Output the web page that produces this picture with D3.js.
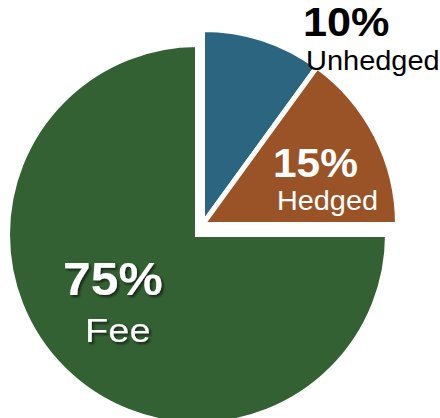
<!DOCTYPE html>
<html>
<head>
<meta charset="utf-8">
<script src="https://cdn.jsdelivr.net/npm/d3@7"></script>
<style>
  body { margin: 0; background: #fff; }
  text { font-family: "Liberation Sans", Arial, sans-serif; }
</style>
</head>
<body>
<div id="pie-chart"></div>
<script>
var categories = ["Unhedged", "Hedged", "Fee"];
var values = [10, 15, 75];
var pctLabels = ["10%", "15%", "75%"];
var colors = ["#2b6580", "#9a5326", "#336133"];

var width = 440, height = 418;

var svg = d3.select("#pie-chart").append("svg")
    .attr("width", width)
    .attr("height", height);

var defs = svg.append("defs");
defs.append("filter")
    .attr("id", "shadow")
    .attr("x", "-20%").attr("y", "-20%")
    .attr("width", "140%").attr("height", "140%")
  .append("feDropShadow")
    .attr("dx", 2).attr("dy", 2)
    .attr("stdDeviation", 1.2)
    .attr("flood-color", "#0d1f0d")
    .attr("flood-opacity", 0.8);

var data = categories.map(function(c, i) { return {name: c, value: values[i], pct: pctLabels[i], color: colors[i]}; });

var pie = d3.pie()
    .sort(null)
    .value(function(d) { return d.value; });

var arcs = pie(data);

// the two small slices are pulled out towards the upper right
var layout = {
  Unhedged: {cx: 202.5, cy: 224.5, r: 195},
  Hedged:   {cx: 202.5, cy: 224.5, r: 195},
  Fee:      {cx: 197.5, cy: 234.5, r: 190}
};

var slices = svg.selectAll(".slice")
    .data(arcs)
    .enter().append("g")
    .attr("class", "slice")
    .attr("transform", function(d) { var l = layout[d.data.name]; return "translate(" + l.cx + "," + l.cy + ")"; });

slices.append("path")
    .attr("d", function(d) { return d3.arc().innerRadius(0).outerRadius(layout[d.data.name].r)(d); })
    .attr("fill", function(d) { return d.data.color; })
    .attr("stroke", "#fff")
    .attr("stroke-width", 5)
    .attr("stroke-linejoin", "miter");

// labels: [x, y, font size, horizontal stretch] for the percent and the name
var labelPos = {
  Unhedged: {p: [303, 36, 40, 1.08], n: [306, 70, 28, 1.035], fill: "#000", shadow: false},
  Hedged:   {p: [273, 177, 40, 1.06], n: [277, 210, 28, 1.03], fill: "#fff", shadow: false},
  Fee:      {p: [63, 295, 47, 1.06], n: [85, 342, 34, 1.12], fill: "#fff", shadow: true}
};

var labels = svg.selectAll(".label")
    .data(arcs)
    .enter().append("g")
    .attr("class", "label")
    .attr("fill", function(d) { return labelPos[d.data.name].fill; })
    .attr("filter", function(d) { return labelPos[d.data.name].shadow ? "url(#shadow)" : null; });

function place(k) {
  return function(d) {
    var p = labelPos[d.data.name][k];
    return "translate(" + p[0] + "," + p[1] + ") scale(" + p[3] + ",1)";
  };
}

labels.append("text")
    .attr("transform", place("p"))
    .style("font-size", function(d) { return labelPos[d.data.name].p[2] + "px"; })
    .style("font-weight", "bold")
    .text(function(d) { return d.data.pct; });

labels.append("text")
    .attr("transform", place("n"))
    .style("font-size", function(d) { return labelPos[d.data.name].n[2] + "px"; })
    .text(function(d) { return d.data.name; });
</script>
</body>
</html>
